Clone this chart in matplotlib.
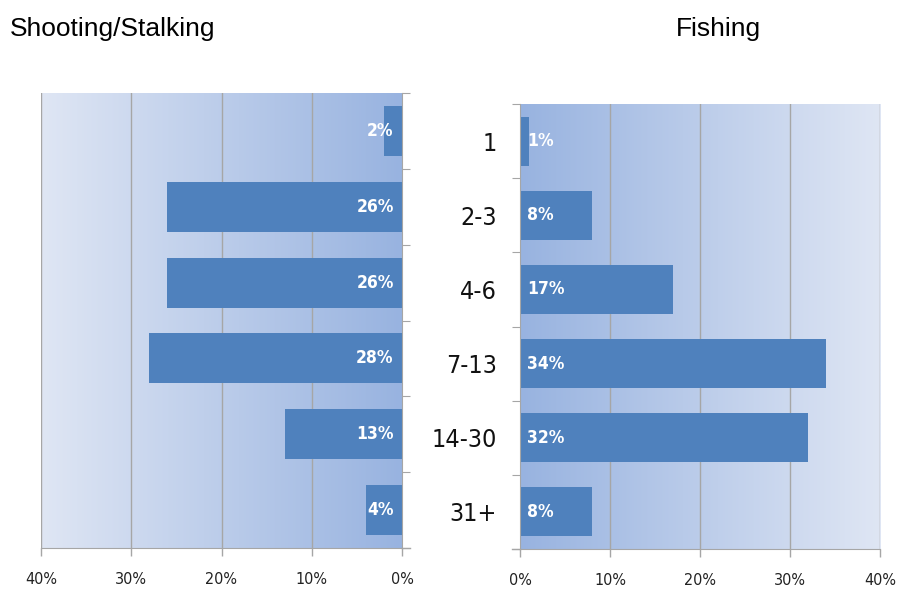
import numpy as np
import matplotlib
matplotlib.use("Agg")
import matplotlib.pyplot as plt
from matplotlib.colors import LinearSegmentedColormap
from matplotlib.lines import Line2D

categories = ["1", "2-3", "4-6", "7-13", "14-30", "31+"]
shooting = [2, 26, 26, 28, 13, 4]
fishing = [1, 8, 17, 34, 32, 8]
xticks = [0, 10, 20, 30, 40]
xticklabels = ["0%", "10%", "20%", "30%", "40%"]

W, H = 899, 589
fig = plt.figure(figsize=(W / 100, H / 100), dpi=100)

narrow = dict(family="DejaVu Sans", stretch="condensed")
bar_color = "#4f81bd"
grid_color = "#a6a6a6"
cmap = LinearSegmentedColormap.from_list("bg", ["#dfe6f4", "#98b3e0"])

def ax_rect(x0, y0, x1, y1):
    return [x0 / W, 1 - y1 / H, (x1 - x0) / W, (y1 - y0) / H]

axL = fig.add_axes(ax_rect(41, 93, 402, 548))
axR = fig.add_axes(ax_rect(520, 104, 880, 549))

y = np.arange(len(categories))
grad = np.linspace(0, 1, 256).reshape(1, -1)
n = len(categories)

for ax, vals, side in [(axL, shooting, "L"), (axR, fishing, "R")]:
    if side == "L":
        ax.imshow(grad, extent=[40, 0, n - 0.5, -0.5], aspect="auto",
                  cmap=cmap, zorder=0, interpolation="bilinear")
    else:
        ax.imshow(grad[:, ::-1], extent=[0, 40, n - 0.5, -0.5], aspect="auto",
                  cmap=cmap, zorder=0, interpolation="bilinear")
    ax.set_xlim(0, 40)
    ax.set_ylim(n - 0.5, -0.5)
    for xv in [10, 20, 30, 40]:
        ax.axvline(xv, color=grid_color, lw=1, zorder=1)
    ax.barh(y, vals, height=0.66, color=bar_color, zorder=2)
    for yi, v in zip(y, vals):
        if side == "L":
            ax.annotate(f"{v}%", (0, yi), xytext=(-6, 0), textcoords="offset points",
                        ha="right", va="center", color="white", fontweight="bold",
                        fontsize=12.5, zorder=3, **narrow)
        else:
            ax.annotate(f"{v}%", (0, yi), xytext=(5, 0), textcoords="offset points",
                        ha="left", va="center", color="white", fontweight="bold",
                        fontsize=12.5, zorder=3, **narrow)
    ax.set_xticks(xticks)
    ax.set_xticklabels(xticklabels, fontsize=11.5, color="#222222", **narrow)
    ax.tick_params(axis="x", length=6, color=grid_color, width=1, pad=11)
    for s in ax.spines.values():
        s.set_color(grid_color)
    ax.spines["top"].set_visible(False)

axL.invert_xaxis()
axL.spines["left"].set_visible(False)
axL.yaxis.tick_right()
axL.set_yticks(np.arange(-0.5, n, 1))
axL.set_yticklabels([])
axL.tick_params(axis="y", length=6, color=grid_color, direction="out")

axR.spines["right"].set_visible(False)
axR.set_yticks(np.arange(-0.5, n, 1), minor=False)
axR.set_yticklabels([])
axR.tick_params(axis="y", length=6, color=grid_color, direction="out")
axR.set_yticks(y, minor=True)
axR.set_yticklabels(categories, minor=True, fontsize=18, color="#111111", **narrow)
axR.tick_params(axis="y", which="minor", length=0, pad=16.5)

# bottom spine overhangs like the original
fig.add_artist(Line2D([402 / W, 410 / W], [1 - 548 / H, 1 - 548 / H], color=grid_color, lw=1))
fig.add_artist(Line2D([512 / W, 520 / W], [1 - 549 / H, 1 - 549 / H], color=grid_color, lw=1))

fig.text(10 / W, 1 - 29 / H, "Shooting/Stalking", fontsize=19, va="center", ha="left",
         family="Liberation Sans")
fig.text(718 / W, 1 - 29 / H, "Fishing", fontsize=19, va="center", ha="center",
         family="Liberation Sans")

fig.savefig("out.png", dpi=100)
